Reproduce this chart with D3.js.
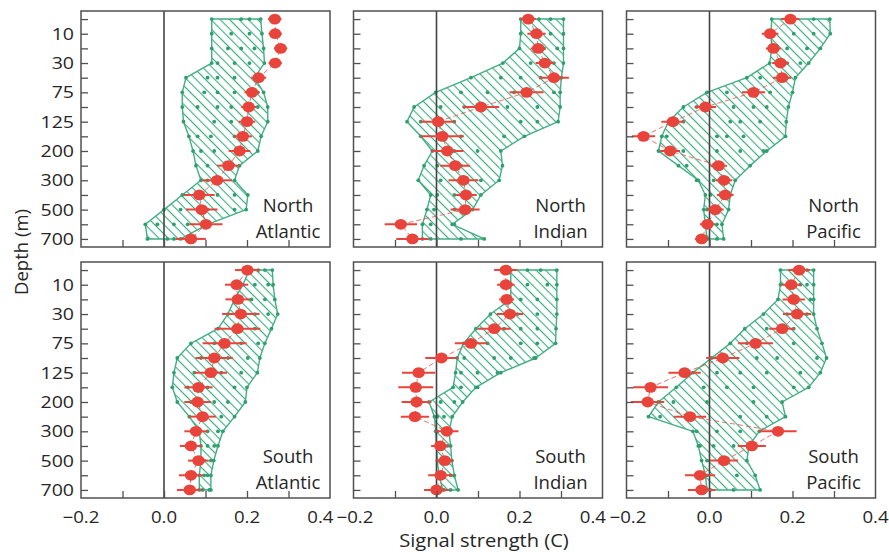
<!DOCTYPE html>
<html><head><meta charset="utf-8">
<script src="https://cdn.jsdelivr.net/npm/d3@7/dist/d3.min.js"></script>
<style>body{margin:0;background:#fff}svg{display:block}</style>
</head><body>
<svg id="chart" width="889" height="552"></svg>
<script>
// ---------- data ----------
const depths = [0,10,20,30,50,75,100,125,150,200,250,300,400,500,600,700];
const depthTickLabels = {1:"10",3:"30",5:"75",7:"125",9:"200",11:"300",13:"500",15:"700"};
const xMinorTicks = [-0.1,0,0.1,0.2,0.3];
const xTickLabels = [-0.2,0,0.2,0.4];
const regionNames = [["North","Atlantic"],["North","Indian"],["North","Pacific"],["South","Atlantic"],["South","Indian"],["South","Pacific"]];

const naSignal = [0.267,0.268,0.281,0.268,0.228,0.212,0.204,0.200,0.190,0.182,0.155,0.128,0.085,0.091,0.101,0.065];
const naErr    = [0.016,0.016,0.016,0.016,0.018,0.018,0.018,0.020,0.022,0.026,0.027,0.036,0.037,0.038,0.040,0.036];
const naLo     = [0.115,0.115,0.115,0.115,0.053,0.044,0.044,0.047,0.060,0.070,0.077,0.089,0.044,0.000,-0.045,-0.040];
const naHi     = [0.233,0.236,0.240,0.242,0.218,0.240,0.250,0.250,0.234,0.226,0.182,0.170,0.202,0.198,0.105,0.040];
const naDots   = [[0.186,0.206],[0.162,0.206],[0.154,0.186,0.218],[0.129,0.170,0.206],[0.105,0.129,0.170],[0.097,0.129,0.170,0.226],[0.081,0.129,0.162,0.226],[0.121,0.162],[0.081,0.113,0.170],[0.089,0.121],[0.105,0.154],[0.105,0.137],[0.089,0.129,0.170],[0.040,0.105,0.170],[-0.016,0.024,0.057],[0.008,0.024]];

const niSignal = [0.221,0.241,0.245,0.261,0.283,0.217,0.107,0.004,0.014,0.026,0.045,0.065,0.071,0.069,-0.086,-0.058];
const niErr    = [0.019,0.022,0.018,0.022,0.036,0.041,0.044,0.042,0.052,0.039,0.036,0.036,0.026,0.035,0.039,0.039];
const niLo     = [0.203,0.203,0.200,0.160,0.083,-0.002,-0.054,-0.071,-0.038,-0.010,-0.030,-0.044,-0.014,-0.023,-0.034,-0.034];
const niHi     = [0.306,0.306,0.306,0.306,0.301,0.298,0.298,0.293,0.212,0.155,0.159,0.151,0.107,0.087,0.038,0.115];
const niDots   = [[0.247,0.275],[0.275],[0.259,0.291],[0.227,0.283],[0.155,0.203,0.251],[0.059,0.123,0.187,0.283],[0.010,0.067,0.171,0.243],[-0.038,0.043,0.203,0.243],[0.010,0.059,0.163],[0.043,0.099],[0.002,0.059],[0.010,0.059,0.107],[0.002,0.043],[-0.006,0.043],[-0.014,0.043],[-0.014,0.059]];

const npSignal = [0.195,0.146,0.154,0.171,0.175,0.106,-0.010,-0.088,-0.159,-0.095,0.022,0.035,0.038,0.014,-0.005,-0.019];
const npErr    = [0.022,0.020,0.018,0.020,0.022,0.028,0.026,0.028,0.028,0.024,0.020,0.020,0.020,0.020,0.018,0.016];
const npLo     = [0.150,0.148,0.150,0.145,0.090,-0.006,-0.063,-0.099,-0.115,-0.123,-0.075,-0.027,-0.010,-0.014,-0.010,-0.006];
const npHi     = [0.290,0.291,0.267,0.239,0.207,0.200,0.190,0.185,0.183,0.138,0.098,0.062,0.050,0.046,0.030,0.034];
const npDots   = [[0.251],[0.203,0.251],[0.187,0.235],[0.187,0.219],[0.122,0.187],[0.042,0.146],[-0.031,0.058,0.106,0.138],[-0.063,0.050,0.074,0.122],[-0.103,0.018,0.042,0.082],[-0.063,0.018,0.074,0.130],[-0.055,0.010],[-0.031,0.010],[0.002,0.026],[-0.006,0.026],[-0.014,0.018],[-0.006,0.018]];

const saSignal = [0.201,0.175,0.178,0.185,0.177,0.146,0.121,0.113,0.083,0.081,0.093,0.077,0.065,0.083,0.065,0.062];
const saErr    = [0.030,0.028,0.030,0.045,0.055,0.053,0.045,0.039,0.034,0.032,0.032,0.028,0.027,0.025,0.029,0.031];
const saLo     = [0.206,0.190,0.170,0.154,0.130,0.065,0.032,0.024,0.020,0.032,0.061,0.085,0.089,0.089,0.085,0.085];
const saHi     = [0.261,0.263,0.267,0.274,0.259,0.243,0.231,0.225,0.200,0.196,0.170,0.142,0.130,0.120,0.113,0.113];
const saDots   = [[0.227,0.243],[0.219,0.251],[0.211,0.243],[0.194,0.219,0.251],[0.170,0.219],[0.121,0.186,0.227],[0.089,0.154,0.202],[0.073,0.138,0.186],[0.057,0.105,0.170],[0.065,0.121,0.154],[0.089,0.138],[0.105,0.130],[0.105,0.121],[0.097,0.113],[0.097,0.105],[0.093,0.109]];

const siSignal = [0.167,0.167,0.169,0.177,0.139,0.083,0.012,-0.043,-0.050,-0.048,-0.052,0.025,0.009,0.020,0.010,0.000];
const siErr    = [0.028,0.021,0.018,0.032,0.040,0.039,0.039,0.040,0.042,0.036,0.034,0.028,0.022,0.021,0.030,0.030];
const siLo     = [0.179,0.179,0.179,0.130,0.095,0.065,0.050,0.046,0.040,-0.018,-0.005,-0.002,0.000,0.002,0.006,0.015];
const siHi     = [0.290,0.290,0.290,0.290,0.288,0.287,0.239,0.155,0.095,0.063,0.038,0.030,0.034,0.037,0.043,0.052];
const siDots   = [[0.219,0.251],[0.219,0.267],[0.203,0.243],[0.195,0.243],[0.163,0.203,0.243],[0.123,0.203,0.243],[0.067,0.139,0.179,0.235],[0.059,0.099,0.147],[0.059,0.099],[0.010,0.043],[0.002,0.018],[0.002,0.018],[0.010,0.026],[0.010,0.026],[0.018,0.034],[0.018,0.034]];

const spSignal = [0.216,0.197,0.203,0.211,0.175,0.111,0.032,-0.060,-0.142,-0.149,-0.047,0.165,0.102,0.035,-0.023,-0.019];
const spErr    = [0.026,0.024,0.027,0.034,0.031,0.042,0.040,0.039,0.042,0.040,0.039,0.045,0.034,0.034,0.036,0.033];
const spLo     = [0.171,0.171,0.165,0.130,0.085,0.050,0.005,-0.040,-0.080,-0.123,-0.147,-0.040,-0.027,-0.019,-0.010,-0.006];
const spHi     = [0.251,0.251,0.251,0.251,0.259,0.271,0.282,0.267,0.239,0.175,0.183,0.120,0.095,0.090,0.110,0.122];
const spDots   = [[0.203,0.235],[0.219,0.235],[0.203,0.243],[0.187,0.235],[0.138,0.203],[0.090,0.203],[0.026,0.114,0.163,0.259],[0.018,0.074,0.138,0.219],[-0.014,0.042,0.106,0.203],[-0.087,-0.006,0.106],[-0.119,-0.055,0.074,0.138],[-0.031,0.018,0.074],[-0.023,0.010,0.058],[-0.006,0.034],[-0.006,0.066],[0.002,0.058]];

const panels = [
  {name:regionNames[0], signal:naSignal, err:naErr, lo:naLo, hi:naHi, dots:naDots},
  {name:regionNames[1], signal:niSignal, err:niErr, lo:niLo, hi:niHi, dots:niDots},
  {name:regionNames[2], signal:npSignal, err:npErr, lo:npLo, hi:npHi, dots:npDots},
  {name:regionNames[3], signal:saSignal, err:saErr, lo:saLo, hi:saHi, dots:saDots},
  {name:regionNames[4], signal:siSignal, err:siErr, lo:siLo, hi:siHi, dots:siDots},
  {name:regionNames[5], signal:spSignal, err:spErr, lo:spLo, hi:spHi, dots:spDots}
];

// ---------- layout / style ----------
const FONT = "'Open Sans', 'Noto Sans', sans-serif";
const TXT = "#262626";
const colX = [81, 353.5, 626.5], colW = 249;
const rowY = [11, 262], rowH = 236;
const GREEN = "#43ae86", GREEN_DOT = "#2f9f70", RED = "#e9443b", FRAME = "#505050";
const SX = 1.15; // horizontal text stretch matching the reference glyph widths

const svg = d3.select("#chart");
const defs = svg.append("defs");
defs.append("pattern").attr("id","hatch").attr("patternUnits","userSpaceOnUse")
  .attr("width",6.6).attr("height",6.6).attr("patternTransform","rotate(-45)")
  .append("line").attr("x1",3.3).attr("y1",0).attr("x2",3.3).attr("y2",6.6)
  .attr("stroke",GREEN).attr("stroke-width",1.2);

const fmt = v => (v < 0 ? "\u2212" : "") + Math.abs(v).toFixed(1);
function stretchText(parent, tx, ty, str, size, anchor, sx) {
  return parent.append("text")
    .attr("transform", `translate(${tx},${ty}) scale(${sx},1)`)
    .attr("text-anchor", anchor).attr("font-family", FONT).attr("font-size", size)
    .attr("fill", TXT).text(str);
}

panels.forEach((p, i) => {
  const col = i % 3, row = Math.floor(i / 3);
  const x0 = colX[col], y0 = rowY[row];
  const x = d3.scaleLinear().domain([-0.2, 0.4]).range([x0, x0 + colW]);
  const y = d3.scalePoint().domain(d3.range(depths.length)).range([y0, y0 + rowH]).padding(0.55);
  const g = svg.append("g");
  const clipId = "clip" + i;
  defs.append("clipPath").attr("id", clipId).append("rect")
    .attr("x", x0).attr("y", y0).attr("width", colW).attr("height", rowH);
  const inner = g.append("g").attr("clip-path", `url(#${clipId})`);

  // envelope polygon
  const idx = d3.range(depths.length);
  const poly = idx.map(k => [x(p.lo[k]), y(k)]).concat(idx.slice().reverse().map(k => [x(p.hi[k]), y(k)]));
  inner.append("path").attr("d", d3.line()(poly) + "Z")
    .attr("fill", "url(#hatch)").attr("stroke", GREEN).attr("stroke-width", 1.4).attr("stroke-linejoin","round");

  // green dots
  const dotPts = [];
  idx.forEach(k => {
    dotPts.push([p.lo[k], k], [p.hi[k], k]);
    p.dots[k].forEach(v => dotPts.push([v, k]));
  });
  inner.selectAll(".gd").data(dotPts).join("circle")
    .attr("cx", d => x(d[0])).attr("cy", d => y(d[1])).attr("r", 1.9).attr("fill", GREEN_DOT);

  // zero line
  inner.append("line").attr("x1", x(0)).attr("x2", x(0)).attr("y1", y0).attr("y2", y0 + rowH)
    .attr("stroke", "#444").attr("stroke-width", 1.6);

  // dashed red connecting line
  inner.append("path").attr("d", d3.line().x(v => x(v)).y((v, k) => y(k))(p.signal))
    .attr("fill", "none").attr("stroke", RED).attr("stroke-width", 1).attr("stroke-dasharray", "5,3").attr("opacity", 0.75);

  // error bars
  inner.selectAll(".eb").data(p.signal).join("line")
    .attr("x1", (v, k) => x(v - p.err[k])).attr("x2", (v, k) => x(v + p.err[k]))
    .attr("y1", (v, k) => y(k)).attr("y2", (v, k) => y(k))
    .attr("stroke", RED).attr("stroke-width", 2);
  // points
  inner.selectAll(".pt").data(p.signal).join("ellipse")
    .attr("cx", v => x(v)).attr("cy", (v, k) => y(k)).attr("rx", 6.2).attr("ry", 5.4).attr("fill", RED);

  // axes (inward ticks)
  const ya = d3.axisLeft(y).tickSizeInner(-7).tickSizeOuter(0).tickFormat("");
  const yg = g.append("g").attr("transform", `translate(${x0},0)`).call(ya);
  const xa = d3.axisBottom(x).tickValues(xMinorTicks).tickSizeInner(-7).tickSizeOuter(0).tickFormat("");
  const xg = g.append("g").attr("transform", `translate(0,${y0 + rowH})`).call(xa);
  [yg, xg].forEach(a => {
    a.select(".domain").remove();
    a.selectAll(".tick line").attr("stroke", FRAME).attr("stroke-width", 1.3);
  });

  // y tick labels (first column)
  if (col === 0) {
    Object.keys(depthTickLabels).forEach(k => {
      stretchText(g, x0 - 7, y(+k) + 6, depthTickLabels[k], 17, "end", SX);
    });
  }

  // frame
  g.append("rect").attr("x", x0).attr("y", y0).attr("width", colW).attr("height", rowH)
    .attr("fill", "none").attr("stroke", FRAME).attr("stroke-width", 1.5);

  // region label
  const lab = g.append("text").attr("font-family", FONT).attr("font-size", 18.5).attr("fill", TXT)
    .attr("text-anchor", "middle");
  lab.append("tspan").attr("x", x0 + colW - 42).attr("y", y0 + rowH - 35).text(p.name[0]);
  lab.append("tspan").attr("x", x0 + colW - 42).attr("y", y0 + rowH - 9.5).text(p.name[1]);

  // x tick labels on bottom row
  if (row === 1) {
    xTickLabels.forEach(v => {
      let tx = x(v), anchor = "middle";
      if (v === 0.4 && col < 2) { tx = x(v) + 3.5; anchor = "end"; }
      if (v === -0.2 && col > 0) { tx = x(v) - 17; anchor = "start"; }
      stretchText(g, tx, y0 + rowH + 25, fmt(v), 16.5, anchor, 1.13);
    });
  }
});

// axis titles
stretchText(svg, 484, 547, "Signal strength (C)", 17.5, "middle", 1.15);
svg.append("text").attr("transform", "translate(28,252) rotate(-90)").attr("text-anchor", "middle")
  .attr("font-family", FONT).attr("font-size", 18.5).attr("fill", TXT).text("Depth (m)");
</script>
</body></html>
